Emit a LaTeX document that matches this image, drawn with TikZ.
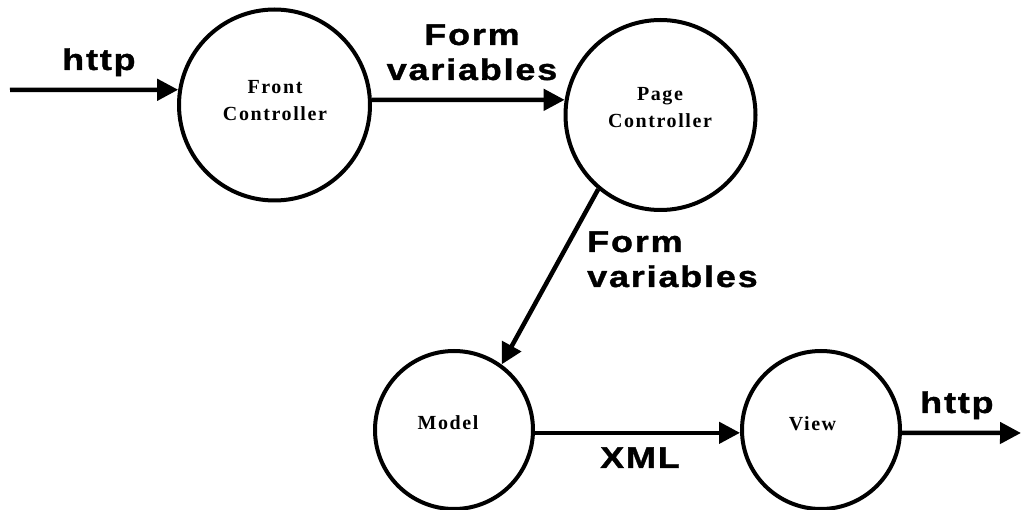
\documentclass[tikz,border=0pt]{standalone}
\usepackage{fontspec}
\setmainfont{Liberation Serif}
\newfontfamily\lblfont{Liberation Sans}[FakeStretch=1.2, LetterSpace=6, BoldFeatures={FakeBold=1.2}]
\newfontfamily\innerfont{Liberation Serif}[LetterSpace=8]
\usetikzlibrary{arrows.meta}
\begin{document}
\begin{tikzpicture}[x=1pt,y=-1pt,
  proc/.style={draw, circle, line width=4pt, inner sep=0pt},
  flow/.style={line width=4.5pt, -{Triangle[length=21pt,width=21pt]}},
  lbl/.style={font=\lblfont\bfseries\fontsize{30}{35}\selectfont, inner sep=0pt},
  ptxt/.style={font=\innerfont\bfseries\fontsize{20}{27}\selectfont, align=center, inner sep=0pt}]
\useasboundingbox (0,0) rectangle (1021,510);
% circles
\node[proc, minimum size=191pt] (fc) at (274.5,105) {};
\node[proc, minimum size=190pt] (pc) at (660.5,115) {};
\node[proc, minimum size=158pt] (model) at (454,430) {};
\node[proc, minimum size=158pt] (view) at (821,430) {};
% circle texts
\node[ptxt] (fct) at (275,101) {Front\\Controller};
\node[ptxt] (pct) at (660,108) {Page\\Controller};
\node[ptxt] (modelt) at (448,422.5) {Model};
\node[ptxt] (viewt) at (812.5,423.5) {View};
% free ends
\coordinate (in) at (10,90);
\coordinate (out) at (1021,433);
% connectors
\draw[flow] (in) -- (fc.171);
\draw[flow] (fc.3) -- (pc.171);
\draw[flow] (pc.230) -- (model.54);
\draw[flow] (model.-2) -- (view.182);
\draw[flow] (view.-2) -- (out);
% labels
\node[lbl, anchor=base west] (l1) at (62,70) {http};
\node[lbl, anchor=base, align=center] (l2) at (472,80) {Form\\variables};
\node[lbl, anchor=base west, align=left] (l3) at (587,287) {Form\\variables};
\node[lbl, anchor=base west] (l4) at (600,468) {XML};
\node[lbl, anchor=base west] (l5) at (920,413) {http};
\end{tikzpicture}
\end{document}
